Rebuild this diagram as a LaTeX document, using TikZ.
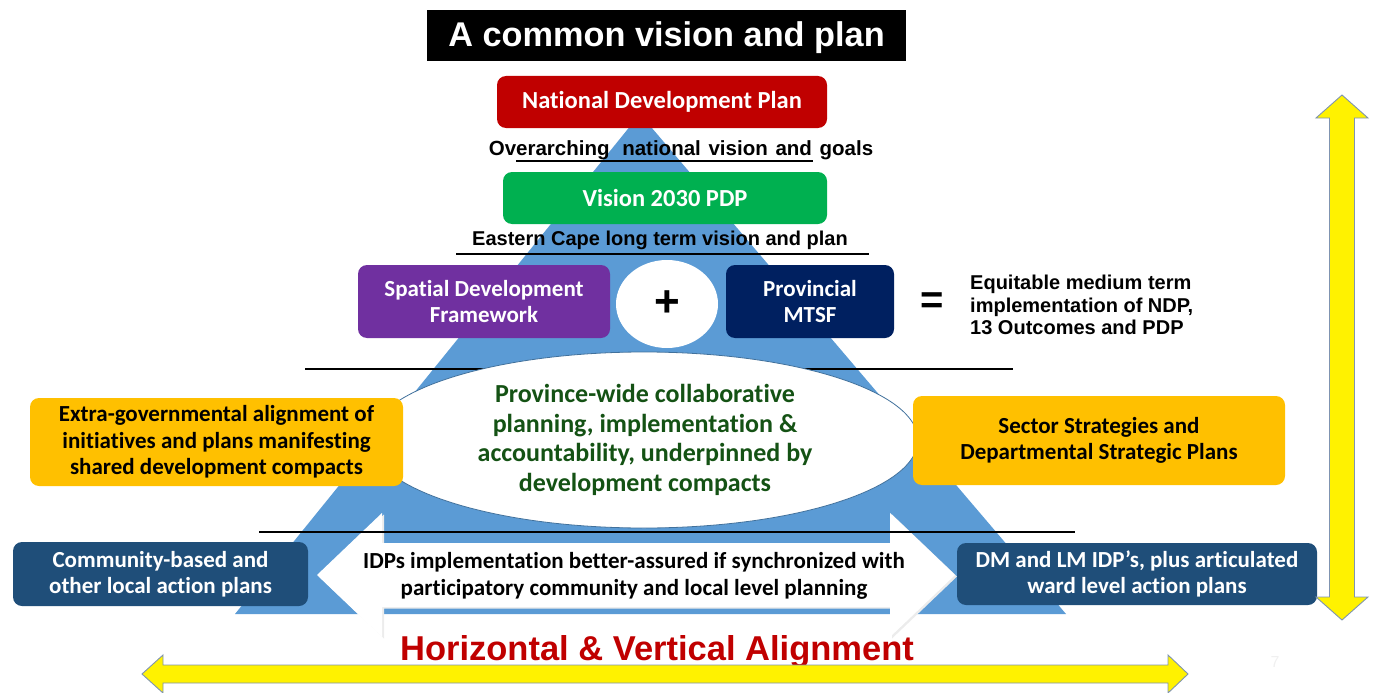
\documentclass[tikz,border=0pt]{standalone}
\usepackage{fontspec}
\setmainfont{Liberation Sans}
\newfontfamily\carl[Ligatures=NoCommon]{Carlito}
\usetikzlibrary{shapes.geometric}
\definecolor{ndpred}{HTML}{C00000}
\definecolor{visgreen}{HTML}{00B050}
\definecolor{sdfpurple}{HTML}{7030A0}
\definecolor{mtsfnavy}{HTML}{002060}
\definecolor{ambox}{HTML}{FFC000}
\definecolor{dkblue}{HTML}{1F4E79}
\definecolor{triblue}{HTML}{5B9BD5}
\definecolor{ellgreen}{RGB}{20,82,20}
\definecolor{elledge}{HTML}{41719C}
\definecolor{arredge}{HTML}{7F94B0}
\definecolor{alignred}{HTML}{C00000}
\begin{document}
\begin{tikzpicture}[x=1pt,y=-1pt,
  box/.style={rounded corners=9pt, inner sep=0pt, align=center, text=white,
    font=\carl\bfseries\fontsize{23}{26.5}\selectfont},
  bigbox/.style={box, font=\carl\bfseries\fontsize{24.5}{28}\selectfont},
  darkbox/.style={box, text=black},
  caption/.style={inner sep=0pt, align=center, font=\bfseries\fontsize{20}{24}\selectfont},
  rule/.style={line width=2.5pt, black},
  yarrow/.style={fill=yellow, draw=arredge, line width=0.9pt, line join=miter},
]
\useasboundingbox (0,0) rectangle (1374,693);

% triangle
\fill[triblue] (640,114) -- (1066,614) -- (235,614) -- cycle;

% title
\node[fill=black, inner sep=0pt, minimum width=479pt, minimum height=51pt] (title) at (666.5,35.5) {};
\node[text=white, inner sep=0pt, font=\bfseries\fontsize{34.3}{40}\selectfont] (titletext) at (666.5,37.5) {A common vision and plan};

% NDP
\node[bigbox, fill=ndpred, minimum width=330pt, minimum height=52pt] (ndp) at (662,102) {National Development Plan};
\node[caption, font=\bfseries\fontsize{20.5}{24}\selectfont] (over) at (681,150.5)
  {Overarching\hspace{7pt} national\hspace{2pt} vision\hspace{2pt} and\hspace{2pt} goals};
\coordinate (l1a) at (516,161); \coordinate (l1b) at (813,161);
\draw[rule] (l1a) -- (l1b);

% Vision 2030
\node[bigbox, fill=visgreen, minimum width=324pt, minimum height=52pt] (vis) at (665,198) {Vision 2030 PDP};
\node[caption] (east) at (660,240.5) {Eastern Cape long term vision and plan};
\coordinate (l2a) at (456,254); \coordinate (l2b) at (869,254);
\draw[rule] (l2a) -- (l2b);

% SDF + MTSF = ...
\node[box, fill=sdfpurple, minimum width=252pt, minimum height=73pt] (sdf) at (484,301.5) {Spatial Development\\Framework};
\node[ellipse, fill=white, inner sep=0pt, minimum width=102pt, minimum height=88pt] (plusc) at (667,304) {};
\node[inner sep=0pt, font=\bfseries\fontsize{44}{44}\selectfont] (plus) at (plusc.center) {+};
\node[box, fill=mtsfnavy, minimum width=168pt, minimum height=73pt] (mtsf) at (810,301.5) {Provincial\\MTSF};
\node[inner sep=0pt, font=\bfseries\fontsize{40}{40}\selectfont] (eq) at (932,303) {=};
\node[anchor=west, inner sep=0pt, align=left, font=\bfseries\fontsize{20}{22.5}\selectfont] (equit) at (970,305)
  {Equitable medium term\\implementation of NDP,\\13 Outcomes and PDP};

% middle rule behind ellipse
\coordinate (l3a) at (305,369); \coordinate (l3b) at (1013,369);
\draw[rule] (l3a) -- (l3b);

% central ellipse
\node[ellipse, fill=white, draw=elledge, line width=0.8pt, inner sep=0pt,
  minimum width=548pt, minimum height=176pt] (ell) at (644,440) {};
\node[inner sep=0pt, align=center, text=ellgreen, font=\carl\bfseries\fontsize{26}{29.5}\selectfont] (elltext) at (645,440)
  {Province-wide collaborative\\planning, implementation \&\\accountability, underpinned by\\development compacts};

% side yellow boxes
\node[darkbox, fill=ambox, minimum width=373pt, minimum height=88pt] (extra) at (216.5,442)
  {Extra-governmental alignment of\\initiatives and plans manifesting\\shared development compacts};
\node[darkbox, fill=ambox, minimum width=372pt, minimum height=89pt] (sector) at (1099,440.5)
  {Sector Strategies and\\Departmental Strategic Plans};

% white double arrow
\fill[gray!15] (319,576.5) -- (384,514.5) -- (384,544.5) -- (892,544.5) -- (892,514.5) -- (957,576.5)
  -- (892,638.5) -- (892,608.5) -- (384,608.5) -- (384,638.5) -- cycle;
\fill[white] (317,575) -- (382,513) -- (382,543) -- (890,543) -- (890,513) -- (955,575)
  -- (890,637) -- (890,607) -- (382,607) -- (382,637) -- cycle;
\coordinate (l4a) at (259,532); \coordinate (l4b) at (1075,532);
\draw[rule] (l4a) -- (l4b);

\node[inner sep=0pt, align=center, font=\carl\bfseries\fontsize{23}{26.5}\selectfont] (idp) at (634,576)
  {IDPs implementation better-assured if synchronized with\\participatory community and local level planning};

% bottom dark boxes
\node[box, fill=dkblue, minimum width=295pt, minimum height=64pt] (comm) at (160.5,574)
  {Community-based and\\other local action plans};
\node[box, fill=dkblue, minimum width=360pt, minimum height=62pt] (dm) at (1137,574)
  {DM and LM IDP’s, plus articulated\\ward level action plans};

% alignment label
\node[inner sep=0pt, text=alignred, font=\bfseries\fontsize{34.5}{40}\selectfont] (hv) at (657,652)
  {Horizontal \& Vertical Alignment};

% yellow arrows
\draw[yarrow] (142,674) -- (163,655) -- (163,665) -- (1168,665) -- (1168,655) -- (1188,674)
  -- (1168,693) -- (1168,683) -- (163,683) -- (163,693) -- cycle;
\draw[yarrow] (1342,95) -- (1368,118) -- (1354.5,118) -- (1354.5,597) -- (1368,597) -- (1342,620)
  -- (1316,597) -- (1329.5,597) -- (1329.5,118) -- (1316,118) -- cycle;

\node[inner sep=0pt, text=gray!12, font=\fontsize{16}{16}\selectfont] (pg) at (1275,662) {7};
\end{tikzpicture}
\end{document}
